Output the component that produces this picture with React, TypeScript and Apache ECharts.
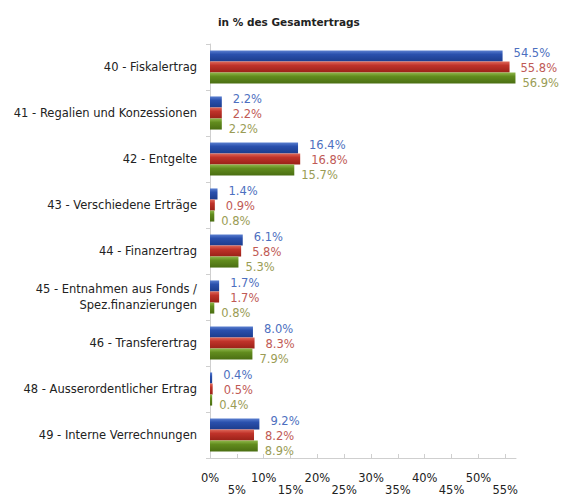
import React, { useEffect, useRef } from "react";
import * as echarts from "echarts";

const categories = [
  "40 - Fiskalertrag",
  "41 - Regalien und Konzessionen",
  "42 - Entgelte",
  "43 - Verschiedene Erträge",
  "44 - Finanzertrag",
  "45 - Entnahmen aus Fonds /\nSpez.finanzierungen",
  "46 - Transferertrag",
  "48 - Ausserordentlicher Ertrag",
  "49 - Interne Verrechnungen",
];
const seriesBlue = [54.5, 2.2, 16.4, 1.4, 6.1, 1.7, 8.0, 0.4, 9.2];
const seriesRed = [55.8, 2.2, 16.8, 0.9, 5.8, 1.7, 8.3, 0.5, 8.2];
const seriesGreen = [56.9, 2.2, 15.7, 0.8, 5.3, 0.8, 7.9, 0.4, 8.9];
const titleText = "in % des Gesamtertrags";

const FONT = "DejaVu Sans";

function grad(top: string, mid: string, bottom: string) {
  return new echarts.graphic.LinearGradient(0, 0, 0, 1, [
    { offset: 0, color: top },
    { offset: 0.35, color: mid },
    { offset: 1, color: bottom },
  ]);
}

function makeSeries(name: string, data: number[], color: any, labelColor: string, dy: number, dist: number) {
  return {
    name,
    type: "bar",
    data,
    barGap: "0%",
    barCategoryGap: "28%",
    itemStyle: { color },
    label: {
      show: true,
      position: "right",
      distance: dist,
      offset: [0, dy],
      color: labelColor,
      fontFamily: FONT,
      fontSize: 11.5,
      formatter: (p: any) => p.value.toFixed(1) + "%",
    },
  };
}

export default function App() {
  const ref = useRef<HTMLDivElement>(null);
  useEffect(() => {
    if (!ref.current) return;
    const chart = echarts.init(ref.current, undefined, { renderer: "svg" });
    chart.setOption({
      animation: false,
      backgroundColor: "#ffffff",
      title: {
        text: titleText,
        left: 213,
        top: 11,
        textStyle: { fontFamily: FONT, fontSize: 10.5, fontWeight: "bold", color: "#222" },
      },
      grid: { left: 210, right: 46, top: 44, bottom: 42 },
      xAxis: {
        type: "value",
        min: 0,
        max: 57,
        interval: 5,
        splitLine: { show: false },
        axisLine: { show: true, lineStyle: { color: "#cfcfcf" } },
        axisTick: { show: true, length: 4, inside: true, lineStyle: { color: "#cfcfcf" } },
        axisLabel: {
          margin: 14,
          fontFamily: FONT,
          fontSize: 11.5,
          color: "#222",
          lineHeight: 12,
          showMaxLabel: false,
          formatter: (v: number) =>
            v % 5 !== 0 ? "" : v % 10 === 0 ? `${v}%` : `\n${v}%`,
        },
      },
      yAxis: {
        type: "category",
        data: categories,
        inverse: true,
        axisLine: { show: true, lineStyle: { color: "#cfcfcf" } },
        axisTick: { show: true, length: 4, lineStyle: { color: "#cfcfcf" } },
        axisLabel: {
          margin: 13,
          fontFamily: FONT,
          fontSize: 11.5,
          color: "#222",
          lineHeight: 16,
          align: "right",
        },
      },
      series: [
        makeSeries("Serie 1", seriesBlue, grad("#5a7fd0", "#2a50ad", "#1c3c8c"), "#4d6fc0", -3, 11),
        makeSeries("Serie 2", seriesRed, grad("#e06a5a", "#c0332a", "#9a2218"), "#c05a55", 1, 11),
        makeSeries("Serie 3", seriesGreen, grad("#8fb84a", "#628c1e", "#4a6e12"), "#9a9c55", 5, 7),
      ],
    });
    return () => chart.dispose();
  }, []);
  return (
    <div
      ref={ref}
      style={{ position: "absolute", left: 0, top: 0, width: 562, height: 500 }}
    />
  );
}
